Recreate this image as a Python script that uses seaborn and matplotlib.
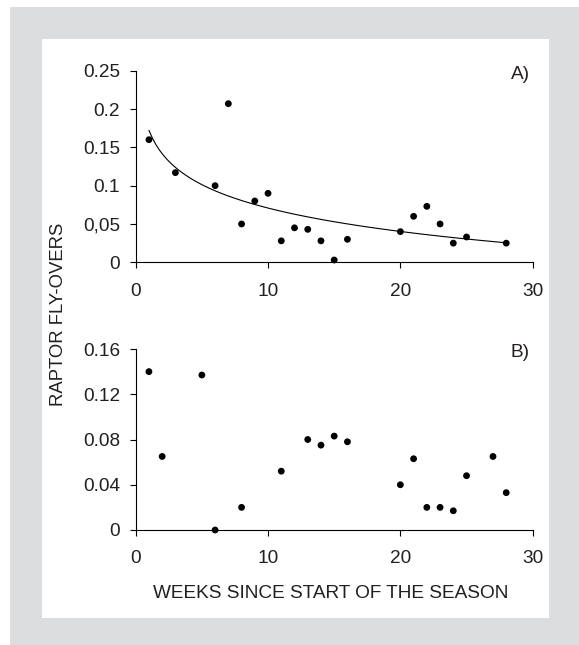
import numpy as np
import pandas as pd
import matplotlib
matplotlib.use("Agg")
import matplotlib.pyplot as plt
from matplotlib.patches import Rectangle
import seaborn as sns

# ---- data ----
weeks_a = [1, 3, 6, 7, 8, 9, 10, 11, 12, 13, 14, 15, 16, 20, 21, 22, 23, 24, 25, 28]
flyovers_a = [0.160, 0.117, 0.100, 0.207, 0.050, 0.080, 0.090, 0.028, 0.045, 0.043,
              0.028, 0.003, 0.030, 0.040, 0.060, 0.073, 0.050, 0.025, 0.033, 0.025]
weeks_b = [1, 2, 5, 6, 8, 11, 13, 14, 15, 16, 20, 21, 22, 23, 24, 25, 27, 28]
flyovers_b = [0.140, 0.065, 0.137, 0.000, 0.020, 0.052, 0.080, 0.075, 0.083, 0.078,
              0.040, 0.063, 0.020, 0.020, 0.017, 0.048, 0.065, 0.033]
xticks = [0, 10, 20, 30]
yticks_a = [0, 0.05, 0.10, 0.15, 0.20, 0.25]
yticklabels_a = ["0", "0,05", "0.1", "0.15", "0.2", "0.25"]
yticks_b = [0, 0.04, 0.08, 0.12, 0.16]
yticklabels_b = ["0", "0.04", "0.08", "0.12", "0.16"]
xlabel = "WEEKS SINCE START OF THE SEASON"
ylabel = "RAPTOR FLY-OVERS"

df_a = pd.DataFrame({"week": weeks_a, "rate": flyovers_a})
df_b = pd.DataFrame({"week": weeks_b, "rate": flyovers_b})

sns.set_style("ticks")
plt.rcParams["font.family"] = ["Liberation Sans", "DejaVu Sans"]
TXT = "#231f20"
GREY = "#dcdddf"
FS = 13.7

W, H = 579, 645
fig = plt.figure(figsize=(W / 100, H / 100), dpi=100)
fig.patch.set_facecolor("white")
fig.patches.append(Rectangle((10 / W, 0), 1 - 10 / W, (H - 7) / H,
                             transform=fig.transFigure, facecolor=GREY,
                             edgecolor="none", zorder=-10))
fig.patches.append(Rectangle((42 / W, 1 - 618 / H), (549 - 42) / W, (618 - 39) / H,
                             transform=fig.transFigure, facecolor="white",
                             edgecolor="none", zorder=-9))

def px_axes(left, top, right, bottom):
    return fig.add_axes([left / W, 1 - bottom / H, (right - left) / W, (bottom - top) / H])

ax_a = px_axes(135.7, 70.7, 532.7, 262.3)
ax_b = px_axes(135.7, 349, 532.7, 530)

def style(ax, yt, ytl, label):
    ax.set_facecolor("none")
    ax.set_xlim(0, 30)
    ax.set_ylim(yt[0], yt[-1])
    ax.set_xticks(xticks)
    ax.set_xticklabels([str(t) for t in xticks])
    ax.set_yticks(yt)
    ax.set_yticklabels(ytl)
    for s in ["top", "right"]:
        ax.spines[s].set_visible(False)
    for s in ["left", "bottom"]:
        ax.spines[s].set_color("black")
        ax.spines[s].set_linewidth(0.8)
    ax.tick_params(axis="both", direction="out", length=4.2, width=0.8,
                   colors="black", labelcolor=TXT, labelsize=FS)
    ax.tick_params(axis="x", pad=10.5)
    ax.tick_params(axis="y", pad=7)
    ax.set_xlabel("")
    ax.set_ylabel("")
    ax.text(0.968, 0.98, label, transform=ax.transAxes, ha="center", va="center",
            fontsize=FS, color=TXT)

sns.regplot(data=df_a, x="week", y="rate", logx=True, ci=None, scatter=False,
            ax=ax_a, line_kws={"color": "black", "linewidth": 0.8})
sns.scatterplot(data=df_a, x="week", y="rate", ax=ax_a, color="black", s=24,
                edgecolor="none", clip_on=False, zorder=3)
sns.scatterplot(data=df_b, x="week", y="rate", ax=ax_b, color="black", s=24,
                edgecolor="none", clip_on=False, zorder=3)

style(ax_a, yticks_a, yticklabels_a, "A)")
style(ax_b, yticks_b, yticklabels_b, "B)")

fig.text(331 / W, 1 - 594 / H, xlabel, ha="center", va="center", fontsize=FS, color=TXT)
fig.text(59 / W, 1 - 314 / H, ylabel, ha="center", va="center", rotation=90,
         fontsize=13.3, color=TXT)

fig.savefig("out.png", dpi=100, facecolor=fig.get_facecolor())
